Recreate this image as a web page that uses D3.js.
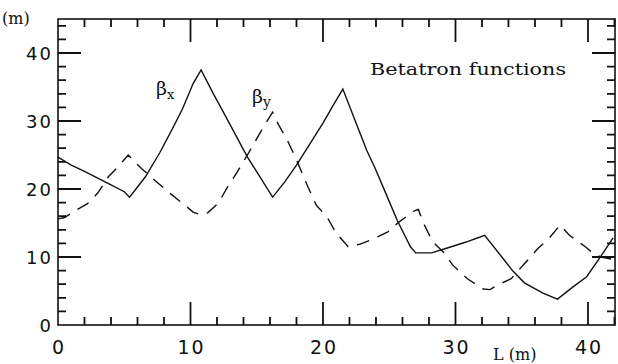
<!DOCTYPE html>
<html>
<head>
<meta charset="utf-8">
<script src="https://cdn.jsdelivr.net/npm/d3@7"></script>
<style>
  body { margin: 0; background: #fff; }
  svg { display: block; }
  text { fill: #111; }
</style>
</head>
<body>
<svg id="chart" width="618" height="364"></svg>
<script>
// beta_x (solid)
const bxL = [0, 1, 2, 3, 4, 5, 5.4, 6.6, 7.7, 8.7, 9.4, 10.2, 10.8, 11.7, 12.4, 13.2, 14.3, 15.3, 16.2, 17.1, 18.0, 19.0, 20.0, 20.8, 21.5, 22.4, 23.3, 23.9, 24.8, 25.6, 26.6, 27.0, 28.2, 29.5, 30.8, 31.8, 32.2, 33.5, 34.3, 35.2, 36.6, 37.7, 38.8, 39.9, 40.9, 41.9];
const bx  = [24.7, 23.5, 22.6, 21.6, 20.6, 19.6, 18.8, 21.8, 25.4, 29.1, 31.8, 35.5, 37.5, 34.1, 31.6, 28.7, 24.7, 21.6, 18.8, 21.0, 23.5, 26.6, 29.7, 32.4, 34.7, 30.2, 25.7, 23.2, 19.1, 15.4, 11.5, 10.6, 10.6, 11.4, 12.2, 12.9, 13.2, 10.0, 8.0, 6.2, 4.7, 3.8, 5.5, 7.1, 9.9, 12.8];

// beta_y (dashed)
const byL = [0, 0.5, 1.3, 2.2, 3.0, 3.8, 4.5, 5.3, 6.3, 7.3, 8.3, 9.4, 10.2, 10.8, 11.3, 12.1, 12.8, 13.5, 14.5, 15.5, 16.2, 16.6, 17.3, 18.0, 18.8, 19.5, 20.3, 21.0, 21.9, 22.8, 23.6, 24.9, 25.7, 26.9, 27.2, 27.6, 28.3, 29.1, 29.8, 30.9, 32.1, 32.6, 33.2, 34.2, 35.2, 36.2, 37.0, 37.9, 38.6, 39.8, 40.5, 41.0, 42.0];
const by  = [15.6, 15.8, 16.8, 17.8, 19.4, 21.8, 23.2, 25.0, 23.0, 21.3, 19.6, 17.9, 16.6, 16.2, 16.5, 17.9, 20.3, 22.4, 25.7, 29.1, 31.3, 29.6, 27.2, 24.3, 20.6, 17.6, 15.9, 13.5, 11.5, 11.9, 12.5, 13.7, 15.1, 16.8, 17.0, 14.9, 12.2, 10.7, 8.8, 6.8, 5.3, 5.2, 5.9, 6.8, 9.0, 11.2, 12.6, 14.7, 13.2, 11.5, 10.4, 10.0, 9.6];

const xMajor = [0, 10, 20, 30, 40];
const yMajor = [0, 10, 20, 30, 40];
const xLabels = ["0", "10", "20", "30", "40"];
const yLabels = ["0", "10", "20", "30", "40"];

const svg = d3.select("#chart");
const mLeft = 58, mRight = 615, mTop = 19, mBottom = 325;

const x = d3.scaleLinear().domain([0, 42.04]).range([mLeft, mRight]);
const y = d3.scaleLinear().domain([0, 45]).range([mBottom, mTop]);

// tick marks on all four sides, pointing inward (major every 10, minor every 2)
const tickLen = v => (v % 10 === 0 ? 23 : 8);
const tp = d3.path();
d3.range(2, 43, 2).forEach(v => {
  tp.moveTo(x(v), mBottom); tp.lineTo(x(v), mBottom - tickLen(v));
  tp.moveTo(x(v), mTop);    tp.lineTo(x(v), mTop + tickLen(v));
});
d3.range(2, 45, 2).forEach(v => {
  tp.moveTo(mLeft, y(v));  tp.lineTo(mLeft + tickLen(v), y(v));
  tp.moveTo(mRight, y(v)); tp.lineTo(mRight - tickLen(v), y(v));
});
svg.append("path")
  .attr("d", tp.toString())
  .attr("fill", "none")
  .attr("stroke", "#111")
  .attr("stroke-width", 1.8);

// frame
svg.append("rect")
  .attr("x", mLeft).attr("y", mTop)
  .attr("width", mRight - mLeft).attr("height", mBottom - mTop)
  .attr("fill", "none").attr("stroke", "#111").attr("stroke-width", 1.6);

// tick labels
svg.append("g").selectAll("text").data(xMajor).enter().append("text")
  .attr("x", d => x(d) + 1)
  .attr("y", 354)
  .attr("text-anchor", "middle")
  .attr("font-family", "DejaVu Sans")
  .attr("font-size", 19)
  .attr("letter-spacing", 2)
  .text((d, i) => xLabels[i]);

svg.append("g").selectAll("text").data(yMajor).enter().append("text")
  .attr("x", 53)
  .attr("y", d => y(d) + 7)
  .attr("text-anchor", "end")
  .attr("font-family", "DejaVu Sans")
  .attr("font-size", 18)
  .attr("letter-spacing", 2)
  .text((d, i) => yLabels[i]);

svg.append("text").attr("x", 2).attr("y", 24)
  .attr("font-family", "DejaVu Serif").attr("font-size", 16)
  .text("(m)");

svg.append("text").attr("x", 493).attr("y", 360)
  .attr("font-family", "DejaVu Serif").attr("font-size", 16)
  .text("L (m)");

svg.append("text").attr("x", 370).attr("y", 75)
  .attr("font-family", "DejaVu Serif").attr("font-size", 17)
  .attr("textLength", 196).attr("lengthAdjust", "spacingAndGlyphs")
  .text("Betatron functions");

// curve labels
const bxLab = svg.append("text").attr("x", 156).attr("y", 95)
  .attr("font-family", "DejaVu Serif").attr("font-size", 19);
bxLab.append("tspan").text("β");
bxLab.append("tspan").attr("dy", 4).attr("font-size", 13).text("x");

const byLab = svg.append("text").attr("x", 252).attr("y", 103)
  .attr("font-family", "DejaVu Serif").attr("font-size", 19);
byLab.append("tspan").text("β");
byLab.append("tspan").attr("dy", 4).attr("font-size", 14).text("y");

// curves
const line = d3.line().x(d => x(d[0])).y(d => y(d[1]));

svg.append("path")
  .datum(bxL.map((v, i) => [v, bx[i]]))
  .attr("d", line)
  .attr("fill", "none")
  .attr("stroke", "#111")
  .attr("stroke-width", 1.4);

svg.append("path")
  .datum(byL.map((v, i) => [v, by[i]]))
  .attr("d", line)
  .attr("fill", "none")
  .attr("stroke", "#111")
  .attr("stroke-width", 1.4)
  .attr("stroke-dasharray", "13,9");
</script>
</body>
</html>
